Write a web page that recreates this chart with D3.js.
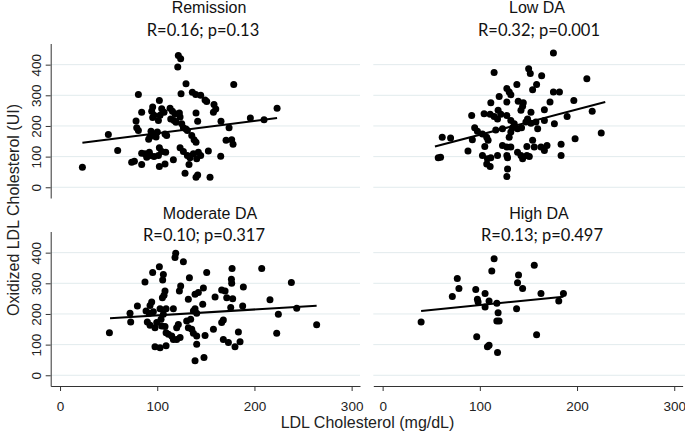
<!DOCTYPE html>
<html><head><meta charset="utf-8">
<script src="https://cdn.jsdelivr.net/npm/d3@7"></script>
<style>body{margin:0;background:#fff;overflow:hidden} svg{display:block}</style>
</head><body><svg id="c" width="685" height="439"></svg>
<script>
// ---------- DATA ----------
const panelNames = ["Remission", "Low DA", "Moderate DA", "High DA"];
const statLabels = ["R=0.16; p=0.13", "R=0.32; p=0.001", "R=0.10; p=0.317", "R=0.13; p=0.497"];
const xTicks = [0, 100, 200, 300];
const yTicks = [0, 100, 200, 300, 400];
const xTitle = "LDL Cholesterol (mg/dL)";
const yTitle = "Oxidized LDL Cholesterol (UI)";

const remissionX = [121.7,124.1,121.1,129.6,178.7,80.6,124.5,136.1,139.6,144.7,149.2,150.9,158.4,160.2,157.8,102.2,95.3,94.3,96.7,95.3,104.6,107.0,102.9,101.2,113.2,115.6,118.3,122.8,123.5,113.9,84.0,78.2,78.9,80.6,139.9,141.6,117.3,119.3,125.2,126.9,129.6,131.0,165.6,173.9,195.8,209.9,223.3,49.7,93.6,96.0,92.6,98.8,91.2,100.1,108.0,109.7,135.5,137.9,139.9,170.8,176.6,178.0,59.3,102.2,104.6,108.7,84.0,87.4,91.9,92.6,89.2,96.7,101.2,73.7,76.5,84.0,102.2,108.0,116.6,123.5,126.9,131.0,133.7,132.7,137.2,142.3,144.7,140.6,152.6,165.3,128.6,139.9,141.6,154.3,23.0];
const remissionY = [430,419,392,338,335,303,305,310,303,300,285,280,270,255,245,283,262,248,235,228,256,245,235,218,258,248,240,242,229,223,245,216,194,185,242,215,218,212,207,194,190,185,215,194,226,220,258,172,183,174,166,164,157,180,174,169,169,155,147,153,155,140,120,129,117,114,111,109,114,104,98,100,104,82,85,74,68,76,90,129,117,104,96,74,109,114,104,93,118,101,46,33,40,33,65];

const lowX = [175.7,114.7,150.2,151.9,163.6,210.1,138.1,127.8,130.2,131.9,158.4,154.3,175.7,181.9,119.9,111.3,127.8,139.5,144.7,172.2,196.7,142.3,144.0,166.4,152.6,104.4,110.6,114.7,118.8,118.2,121.6,127.8,91.6,189.8,215.6,149.1,147.4,152.6,157.7,166.4,131.9,135.4,133.6,138.8,142.9,176.7,94.7,97.5,102.7,107.1,108.5,116.4,123.3,131.9,130.2,159.5,61.3,69.9,92.3,105.1,224.9,198.0,123.3,127.8,131.9,87.8,138.8,142.3,148.4,150.9,148.4,154.3,156.0,162.9,166.4,169.1,183.6,183.6,102.7,107.8,111.3,118.2,107.1,110.6,127.8,128.5,128.5,127.8,57.2,59.6,144.0];
const lowY = [438,374,387,371,364,354,335,322,311,302,335,318,311,311,296,276,278,281,276,278,283,251,264,253,245,240,238,231,251,223,238,234,234,231,248,223,213,209,213,218,218,207,194,191,194,207,194,183,174,163,153,187,191,180,163,191,163,161,155,133,177,158,136,131,131,118,114,104,104,100,133,153,131,131,120,136,140,104,104,93,96,104,76,68,104,96,60,35,96,98,93];

const moderateX = [119.0,118.3,126.9,102.2,95.3,106.3,105.6,87.4,133.1,150.9,177.0,176.3,176.6,188.6,124.1,122.8,147.5,108.0,107.0,105.3,138.9,142.3,132.0,166.3,169.8,171.5,177.6,159.5,146.8,94.3,92.6,79.6,72.0,175.6,187.9,216.0,207.5,88.5,91.9,96.0,102.9,109.1,116.6,106.3,103.9,138.9,137.2,140.6,72.7,89.8,92.6,97.7,99.5,104.6,108.0,109.1,121.7,120.0,130.3,134.4,111.5,114.9,116.6,120.0,123.5,135.5,137.2,140.6,132.0,168.0,166.3,157.8,149.2,50.8,183.5,168.0,173.2,185.2,180.0,140.6,97.7,102.9,109.1,148.1,138.9,224.6,222.9,238.0,243.5,264.0];
const moderateY = [398,384,370,354,335,329,311,304,318,335,348,313,300,288,291,275,285,275,261,253,264,270,248,278,275,253,250,255,232,239,228,226,202,221,226,246,348,210,202,207,217,217,217,199,183,217,210,202,174,174,163,155,172,161,159,139,166,155,177,183,134,128,117,117,123,150,137,128,155,180,172,150,130,139,141,117,107,109,93,101,93,90,96,58,47,199,137,303,219,165];

const highX = [114.7,112.3,156.0,76.8,78.5,71.7,95.8,105.4,139.8,138.8,144.0,97.5,98.2,109.5,105.4,117.5,118.8,117.5,119.9,137.8,162.9,186.0,181.2,39.6,96.8,107.8,109.5,118.2,158.4];
const highY = [380,340,359,316,283,257,280,267,327,302,283,248,239,242,223,235,204,177,177,217,267,267,242,174,126,93,98,74,132];

// fitted lines: [x start, y start, x end, y end] in data units
const fitRemission = [23.0, 145, 223.3, 225.6];
const fitLow = [53.8, 133, 229.0, 278];
const fitModerate = [51.4, 186, 264.0, 227];
const fitHigh = [39.6, 210, 186.0, 256.5];

const seriesX = [remissionX, lowX, moderateX, highX];
const seriesY = [remissionY, lowY, moderateY, highY];
const fits = [fitRemission, fitLow, fitModerate, fitHigh];

// ---------- LAYOUT ----------
const cols = [{x0: 50.7, x1: 360}, {x0: 373.3, x1: 682.6}];
const rows = [{y0: 43.5, y1: 198}, {y0: 231.5, y1: 386}];
const titlePos = [
  {x1: 209, x2: 203, b1: 13, b2: 36},
  {x1: 537, x2: 539, b1: 13, b2: 36},
  {x1: 210, x2: 204, b1: 219, b2: 240.7},
  {x1: 539, x2: 542, b1: 219, b2: 240.7}
];
const xDomain = [-9.6, 308.6];
const yDomain = [-35, 469];
const axisColor = "#333";
const gridColor = "#e2ebed";
const sans = "'Liberation Sans', Arial, sans-serif";
const calib = "Lato, 'Open Sans', sans-serif";

const svg = d3.select("#c");

panelNames.forEach((name, i) => {
  const c = cols[i % 2], r = rows[Math.floor(i / 2)];
  const x = d3.scaleLinear().domain(xDomain).range([c.x0, c.x1]);
  const y = d3.scaleLinear().domain(yDomain).range([r.y1, r.y0]);
  const g = svg.append("g");

  // gridlines
  g.selectAll("line.grid").data(yTicks).join("line")
    .attr("x1", c.x0).attr("x2", i % 2 ? 685 : c.x1)
    .attr("y1", d => y(d)).attr("y2", d => y(d))
    .attr("stroke", gridColor).attr("stroke-width", 1);

  // y axis (left column)
  if (i % 2 === 0) {
    const ya = g.append("g").attr("transform", `translate(${c.x0},0)`)
      .call(d3.axisLeft(y).tickValues(yTicks).tickSize(5).tickSizeOuter(0));
    ya.select(".domain").attr("stroke", axisColor);
    ya.selectAll(".tick line").attr("stroke", axisColor);
    ya.selectAll(".tick text")
      .attr("x", 0).attr("y", -10.2).attr("dy", 0)
      .attr("transform", "rotate(-90)")
      .attr("text-anchor", "middle")
      .attr("fill", "#222")
      .style("font-family", sans).style("font-size", "13.5px");
  }
  // x axis (bottom row)
  if (i >= 2) {
    const xa = g.append("g").attr("transform", `translate(0,${r.y1})`)
      .call(d3.axisBottom(x).tickValues(xTicks).tickSize(5).tickSizeOuter(0));
    xa.select(".domain").attr("stroke", axisColor);
    xa.selectAll(".tick line").attr("stroke", axisColor);
    xa.selectAll(".tick text")
      .attr("y", 24.5).attr("dy", 0)
      .attr("fill", "#222")
      .style("font-family", sans).style("font-size", "13.5px");
  }

  // points
  const pts = seriesX[i].map((v, k) => [v, seriesY[i][k]]);
  g.selectAll("circle").data(pts).join("circle")
    .attr("cx", d => x(d[0])).attr("cy", d => y(d[1]))
    .attr("r", 3.5).attr("fill", "#000");

  // fit line
  const f = fits[i];
  g.append("path")
    .attr("d", d3.line().x(d => x(d[0])).y(d => y(d[1]))([[f[0], f[1]], [f[2], f[3]]]))
    .attr("stroke", "#000").attr("stroke-width", 2).attr("fill", "none");

  // titles
  const t = titlePos[i];
  svg.append("text").attr("x", t.x1).attr("y", t.b1)
    .attr("text-anchor", "middle").attr("fill", "#111")
    .style("font-family", sans).style("font-size", "16px").text(name);
  svg.append("text").attr("x", t.x2).attr("y", t.b2)
    .attr("text-anchor", "middle").attr("fill", "#111")
    .style("font-family", calib).style("font-size", "16.5px").text(statLabels[i]);
});

// axis titles
svg.append("text").attr("x", 367.5).attr("y", 427.5)
  .attr("text-anchor", "middle").attr("fill", "#222")
  .style("font-family", sans).style("font-size", "16px").text(xTitle);
svg.append("text").attr("transform", "translate(18.5,210) rotate(-90)")
  .attr("text-anchor", "middle").attr("fill", "#222")
  .style("font-family", sans).style("font-size", "16px").text(yTitle);
</script>
</body></html>
